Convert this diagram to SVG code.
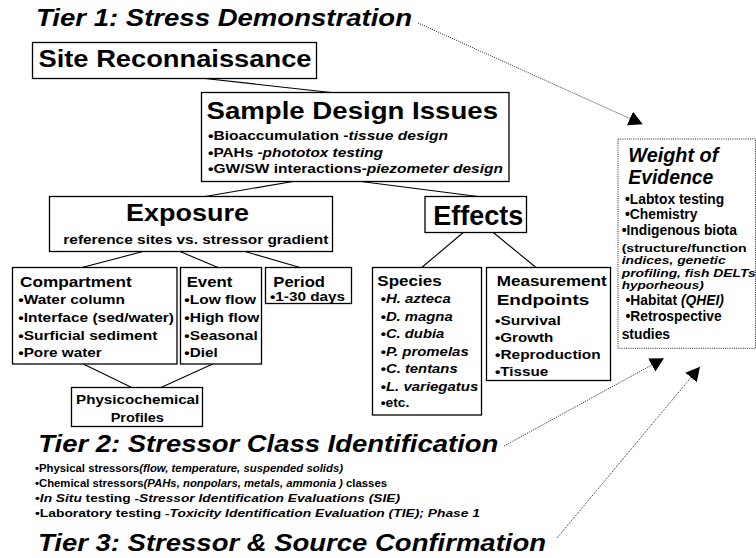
<svg xmlns="http://www.w3.org/2000/svg" width="756" height="558" viewBox="0 0 756 558">
<defs>
<style>
text{font-family:"Liberation Sans",Arial,Helvetica,sans-serif;font-weight:bold;fill:#000}
.i{font-style:italic}
.box{fill:#fff;stroke:#000;stroke-width:1.3}
.dbox{fill:#fff;stroke:#222;stroke-width:1;stroke-dasharray:1 1.2}
.con{stroke:#000;stroke-width:1.1;fill:none}
.dot{stroke:#222;stroke-width:1;stroke-dasharray:1 1.2;fill:none}
.t1{font-size:23px;font-style:italic}
.h2{font-size:15px}
.it{font-size:13.5px}
.w{font-size:13.8px}
.wp{font-size:10.8px}
.tb{font-size:11.5px}
</style>
<marker id="ah" markerUnits="userSpaceOnUse" markerWidth="16" markerHeight="16" refX="14" refY="7.5" orient="auto" viewBox="0 0 16 16">
<path d="M0,0 L14,7.5 L0,15 z" fill="#000"/>
</marker>
</defs>
<rect width="756" height="558" fill="#fff"/>

<g id="connectors">
<line class="con" x1="205" y1="78.5" x2="331" y2="92.5"/>
<line class="con" x1="293" y1="181.5" x2="205" y2="196.5"/>
<line class="con" x1="361" y1="181.5" x2="478" y2="196.5"/>
<line class="con" x1="143" y1="251.5" x2="82" y2="267.5"/>
<line class="con" x1="180" y1="251.5" x2="218" y2="267.5"/>
<line class="con" x1="245" y1="251.5" x2="300" y2="267.5"/>
<line class="con" x1="83.3" y1="364" x2="131.7" y2="387.5"/>
<line class="con" x1="212.7" y1="364" x2="161" y2="387.5"/>
<line class="con" x1="463.3" y1="232.5" x2="421.7" y2="267.5"/>
<line class="con" x1="493.3" y1="232.5" x2="536" y2="267.5"/>
<line class="dot" x1="418" y1="23" x2="642.7" y2="124.3" marker-end="url(#ah)"/>
<line class="dot" x1="504" y1="446" x2="664" y2="358.3" marker-end="url(#ah)"/>
<line class="dot" x1="557" y1="538" x2="700" y2="366.7" marker-end="url(#ah)"/>
</g>

<g id="tier1">
<text class="t1" x="36" y="26" textLength="376" lengthAdjust="spacingAndGlyphs">Tier 1: Stress Demonstration</text>
</g>

<g id="site-reconnaissance">
<rect class="box" x="32.5" y="42.5" width="284" height="36"/>
<text x="38.5" y="67" font-size="23" textLength="273" lengthAdjust="spacingAndGlyphs">Site Reconnaissance</text>
</g>

<g id="sample-design">
<rect class="box" x="201.5" y="92.5" width="307.5" height="89"/>
<text x="206.5" y="118.5" font-size="24" textLength="291.5" lengthAdjust="spacingAndGlyphs">Sample Design Issues</text>
<text class="it" x="208" y="140" textLength="240" lengthAdjust="spacingAndGlyphs">•Bioaccumulation -<tspan class="i">tissue design</tspan></text>
<text class="it" x="208" y="156.7" textLength="175" lengthAdjust="spacingAndGlyphs">•PAHs -<tspan class="i">phototox testing</tspan></text>
<text class="it" x="208" y="173.3" textLength="295" lengthAdjust="spacingAndGlyphs">•GW/SW interactions-<tspan class="i">piezometer design</tspan></text>
</g>

<g id="exposure">
<rect class="box" x="49.5" y="196.5" width="283" height="55"/>
<text x="126" y="221" font-size="23" textLength="123" lengthAdjust="spacingAndGlyphs">Exposure</text>
<text x="63.3" y="244" font-size="13" textLength="265" lengthAdjust="spacingAndGlyphs">reference sites vs. stressor gradient</text>
</g>

<g id="compartment">
<rect class="box" x="12.5" y="267.5" width="164.5" height="96.5"/>
<text class="h2" x="20" y="286.5" textLength="111.7" lengthAdjust="spacingAndGlyphs">Compartment</text>
<text class="it" x="18.3" y="304.3" textLength="106.7" lengthAdjust="spacingAndGlyphs">•Water column</text>
<text class="it" x="18.3" y="322.3" textLength="155.7" lengthAdjust="spacingAndGlyphs">•Interface (sed/water)</text>
<text class="it" x="18.3" y="340" textLength="139" lengthAdjust="spacingAndGlyphs">•Surficial sediment</text>
<text class="it" x="18.3" y="357.3" textLength="83.4" lengthAdjust="spacingAndGlyphs">•Pore water</text>
</g>

<g id="event">
<rect class="box" x="180.5" y="267.5" width="81" height="96.5"/>
<text class="h2" x="186.7" y="286.5" textLength="45.6" lengthAdjust="spacingAndGlyphs">Event</text>
<text class="it" x="184.3" y="304.3" textLength="71.7" lengthAdjust="spacingAndGlyphs">•Low flow</text>
<text class="it" x="184.3" y="322.3" textLength="75" lengthAdjust="spacingAndGlyphs">•High flow</text>
<text class="it" x="184.3" y="340" textLength="73.4" lengthAdjust="spacingAndGlyphs">•Seasonal</text>
<text class="it" x="184.3" y="357.3" textLength="33.4" lengthAdjust="spacingAndGlyphs">•Diel</text>
</g>

<g id="period">
<rect class="box" x="265.5" y="267.5" width="86" height="36"/>
<text class="h2" x="273.3" y="286.5" textLength="51.7" lengthAdjust="spacingAndGlyphs">Period</text>
<text class="it" x="270" y="301" textLength="75" lengthAdjust="spacingAndGlyphs">•1-30 days</text>
</g>

<g id="physicochemical">
<rect class="box" x="71.5" y="387.5" width="131" height="39"/>
<text class="it" x="76" y="404" textLength="123.3" lengthAdjust="spacingAndGlyphs">Physicochemical</text>
<text class="it" x="137.3" y="421.7" text-anchor="middle" textLength="53.3" lengthAdjust="spacingAndGlyphs">Profiles</text>
</g>

<g id="effects">
<rect class="box" x="425" y="196.5" width="101.5" height="36"/>
<text x="433.3" y="225" font-size="27" textLength="90" lengthAdjust="spacingAndGlyphs">Effects</text>
</g>

<g id="species">
<rect class="box" x="372.5" y="267.5" width="109" height="147.5"/>
<text class="h2" x="377.3" y="286" textLength="64.4" lengthAdjust="spacingAndGlyphs">Species</text>
<text class="it" x="380.7" y="303.3" textLength="70" lengthAdjust="spacingAndGlyphs">•<tspan class="i">H. azteca</tspan></text>
<text class="it" x="380.7" y="320.7" textLength="72" lengthAdjust="spacingAndGlyphs">•<tspan class="i">D. magna</tspan></text>
<text class="it" x="380.7" y="338.3" textLength="63.6" lengthAdjust="spacingAndGlyphs">•<tspan class="i">C. dubia</tspan></text>
<text class="it" x="380.7" y="356" textLength="88" lengthAdjust="spacingAndGlyphs">•<tspan class="i">P. promelas</tspan></text>
<text class="it" x="380.7" y="373.3" textLength="77" lengthAdjust="spacingAndGlyphs">•<tspan class="i">C. tentans</tspan></text>
<text class="it" x="380.7" y="390.7" textLength="97.6" lengthAdjust="spacingAndGlyphs">•<tspan class="i">L. variegatus</tspan></text>
<text class="it" x="380.7" y="407.3" textLength="28.6" lengthAdjust="spacingAndGlyphs">•etc.</text>
</g>

<g id="measurement-endpoints">
<rect class="box" x="486.5" y="267.5" width="124" height="113"/>
<text class="h2" x="496.7" y="286" textLength="110" lengthAdjust="spacingAndGlyphs">Measurement</text>
<text class="h2" x="496.7" y="305" textLength="92.6" lengthAdjust="spacingAndGlyphs">Endpoints</text>
<text class="it" x="495" y="325" textLength="65.7" lengthAdjust="spacingAndGlyphs">•Survival</text>
<text class="it" x="495" y="341.7" textLength="58.3" lengthAdjust="spacingAndGlyphs">•Growth</text>
<text class="it" x="495" y="359" textLength="105.7" lengthAdjust="spacingAndGlyphs">•Reproduction</text>
<text class="it" x="495" y="376" textLength="53.3" lengthAdjust="spacingAndGlyphs">•Tissue</text>
</g>

<g id="weight-of-evidence">
<rect class="dbox" x="618" y="139" width="137.5" height="209.3"/>
<text class="i" x="628.3" y="161.7" font-size="20" textLength="90" lengthAdjust="spacingAndGlyphs">Weight of</text>
<text class="i" x="628.3" y="184" font-size="20" textLength="85" lengthAdjust="spacingAndGlyphs">Evidence</text>
<text class="w" x="625" y="204.3">•Labtox testing</text>
<text class="w" x="625" y="219.3">•Chemistry</text>
<text class="w" x="621.7" y="235.3">•Indigenous biota</text>
<text class="wp" x="621.7" y="251.5" textLength="125" lengthAdjust="spacingAndGlyphs">(structure/function</text>
<text class="wp i" x="621.7" y="264" textLength="104" lengthAdjust="spacingAndGlyphs">indices, genetic</text>
<text class="wp i" x="621.7" y="276.5" textLength="134" lengthAdjust="spacingAndGlyphs">profiling, fish DELTs</text>
<text class="wp i" x="621.7" y="289" textLength="82" lengthAdjust="spacingAndGlyphs">hyporheous)</text>
<text class="w" x="625.5" y="304.5">•Habitat <tspan class="i">(QHEI)</tspan></text>
<text class="w" x="625.5" y="321">•Retrospective</text>
<text class="w" x="621.7" y="339">studies</text>
</g>

<g id="tier2">
<text class="t1" x="38.3" y="452" textLength="460" lengthAdjust="spacingAndGlyphs">Tier 2: Stressor Class Identification</text>
<text class="tb" x="35" y="472" textLength="308" lengthAdjust="spacingAndGlyphs">•Physical stressors<tspan class="i">(flow, temperature, suspended solids)</tspan></text>
<text class="tb" x="35" y="487" textLength="352" lengthAdjust="spacingAndGlyphs">•Chemical stressors<tspan class="i">(PAHs, nonpolars, metals, ammonia )</tspan> classes</text>
<text class="tb" x="35" y="502" textLength="365" lengthAdjust="spacingAndGlyphs">•<tspan class="i">In Situ</tspan> testing <tspan class="i">-Stressor Identification Evaluations (SIE)</tspan></text>
<text class="tb" x="35" y="517" textLength="445" lengthAdjust="spacingAndGlyphs">•Laboratory testing <tspan class="i">-Toxicity Identification Evaluation (TIE); Phase 1</tspan></text>
</g>

<g id="tier3">
<text class="t1" x="38" y="551" font-size="24" textLength="508" lengthAdjust="spacingAndGlyphs">Tier 3: Stressor &amp; Source Confirmation</text>
</g>
</svg>
